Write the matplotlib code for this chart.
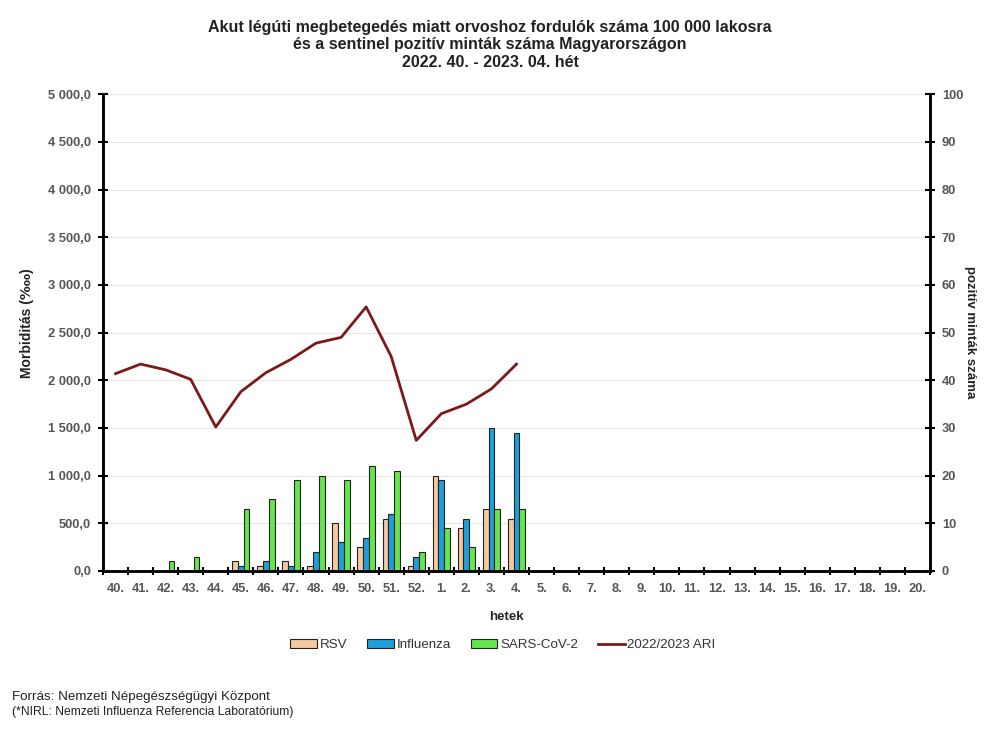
import numpy as np
import matplotlib
matplotlib.use('Agg')
import matplotlib.pyplot as plt

plt.rcParams['font.family'] = ['Liberation Sans', 'DejaVu Sans']

weeks = ['40.', '41.', '42.', '43.', '44.', '45.', '46.', '47.', '48.', '49.', '50.', '51.', '52.',
         '1.', '2.', '3.', '4.', '5.', '6.', '7.', '8.', '9.', '10.', '11.', '12.', '13.', '14.',
         '15.', '16.', '17.', '18.', '19.', '20.']
# positive samples per week, right axis
rsv = [0, 0, 0, 0, 0, 2, 1, 2, 1, 10, 5, 11, 1, 20, 9, 13, 11]
influenza = [0, 0, 0, 0, 0, 1, 2, 1, 4, 6, 7, 12, 3, 19, 11, 30, 29]
sars = [0, 0, 2, 3, 0, 13, 15, 19, 20, 19, 22, 21, 4, 9, 5, 13, 13]
# morbidity, left axis
ari = [2070, 2170, 2110, 2010, 1510, 1880, 2080, 2220, 2390, 2450, 2770, 2250, 1370, 1650, 1750, 1910, 2170]

yticks = np.arange(0, 5001, 500)
ylabels = ['0,0', '500,0', '1 000,0', '1 500,0', '2 000,0', '2 500,0', '3 000,0', '3 500,0',
           '4 000,0', '4 500,0', '5 000,0']

fig = plt.figure(figsize=(10, 7.46), dpi=100)
ax = fig.add_axes([0.103, 0.2346, 0.827, 0.639])
ax2 = ax.twinx()

x = np.arange(len(rsv))
w = 0.23
ax2.bar(x - w, rsv, w, color='#f5c9a0', edgecolor='#222222', linewidth=0.8, label='RSV')
ax2.bar(x, influenza, w, color='#1e9fdc', edgecolor='#222222', linewidth=0.8, label='Influenza')
ax2.bar(x + w, sars, w, color='#66e64d', edgecolor='#222222', linewidth=0.8, label='SARS-CoV-2')
ax.plot(x, ari, color='#7b1a1a', linewidth=2, label='2022/2023 ARI', zorder=5)
ax.set_zorder(ax2.get_zorder() + 1)
ax.patch.set_visible(False)

ax.set_xlim(-0.5, len(weeks) - 0.5)
ax.set_ylim(0, 5000)
ax2.set_ylim(0, 100)
ax.set_xticks(np.arange(len(weeks) + 1) - 0.5)
ax.set_xticklabels([])
ax.set_xticks(np.arange(len(weeks)), labels=weeks, minor=True)
ax.tick_params(axis='x', which='minor', length=0, labelsize=9.3, pad=9, labelcolor='#555555')
for t in ax.get_xticklabels(minor=True):
    t.set_fontweight('bold')
ax.set_yticks(yticks)
ax.set_yticklabels(ylabels, fontweight='bold')
ax2.set_yticks(np.arange(0, 101, 10))
ax2.set_yticklabels(np.arange(0, 101, 10), fontweight='bold')
ax2.grid(axis='y', color='#e6e6e6', linewidth=0.8)
ax2.set_axisbelow(True)

for a in (ax, ax2):
    a.spines['top'].set_visible(False)
    a.spines['left'].set_linewidth(1.8)
    a.spines['right'].set_linewidth(1.8)
    a.spines['bottom'].set_linewidth(1.8)
    a.tick_params(axis='y', labelsize=9.3, length=7, width=1.5, direction='inout', pad=5, labelcolor='#555555')
ax.tick_params(axis='x', which='major', length=6, width=1.5, direction='inout')

ax.set_xlabel('hetek', fontsize=9.5, fontweight='bold', color='#222222')
ax.xaxis.set_label_coords(0.488, -0.084)
ax.set_ylabel('Morbiditás (‱)', fontsize=10, fontweight='bold', color='#222222')
ax.yaxis.set_label_coords(-0.083, 0.52)
ax2.set_ylabel('pozitív minták száma', fontsize=9.5, fontweight='bold', rotation=270, color='#222222')
ax2.yaxis.set_label_coords(1.056, 0.5)

fig.text(0.49, 0.94, 'Akut légúti megbetegedés miatt orvoshoz fordulók száma 100 000 lakosra\n'
         'és a sentinel pozitív minták száma Magyarországon\n2022. 40. - 2023. 04. hét',
         ha='center', va='center', fontsize=11.5, fontweight='bold', linespacing=1.2, color='#222222')

h1, l1 = ax2.get_legend_handles_labels()
h2, l2 = ax.get_legend_handles_labels()
fig.legend(h1 + h2, l1 + l2, loc='center', bbox_to_anchor=(0.503, 0.135), ncol=4, frameon=False,
           fontsize=9.6, handlelength=2.0, handleheight=0.6, columnspacing=1.5, handletextpad=0.2,
           labelcolor='#333333')

fig.text(0.012, 0.066, 'Forrás: Nemzeti Népegészségügyi Központ', fontsize=9.6, va='center', color='#222222')
fig.text(0.012, 0.046, '(*NIRL: Nemzeti Influenza Referencia Laboratórium)', fontsize=8.7, va='center', color='#222222')

fig.savefig('out.png', dpi=100)
